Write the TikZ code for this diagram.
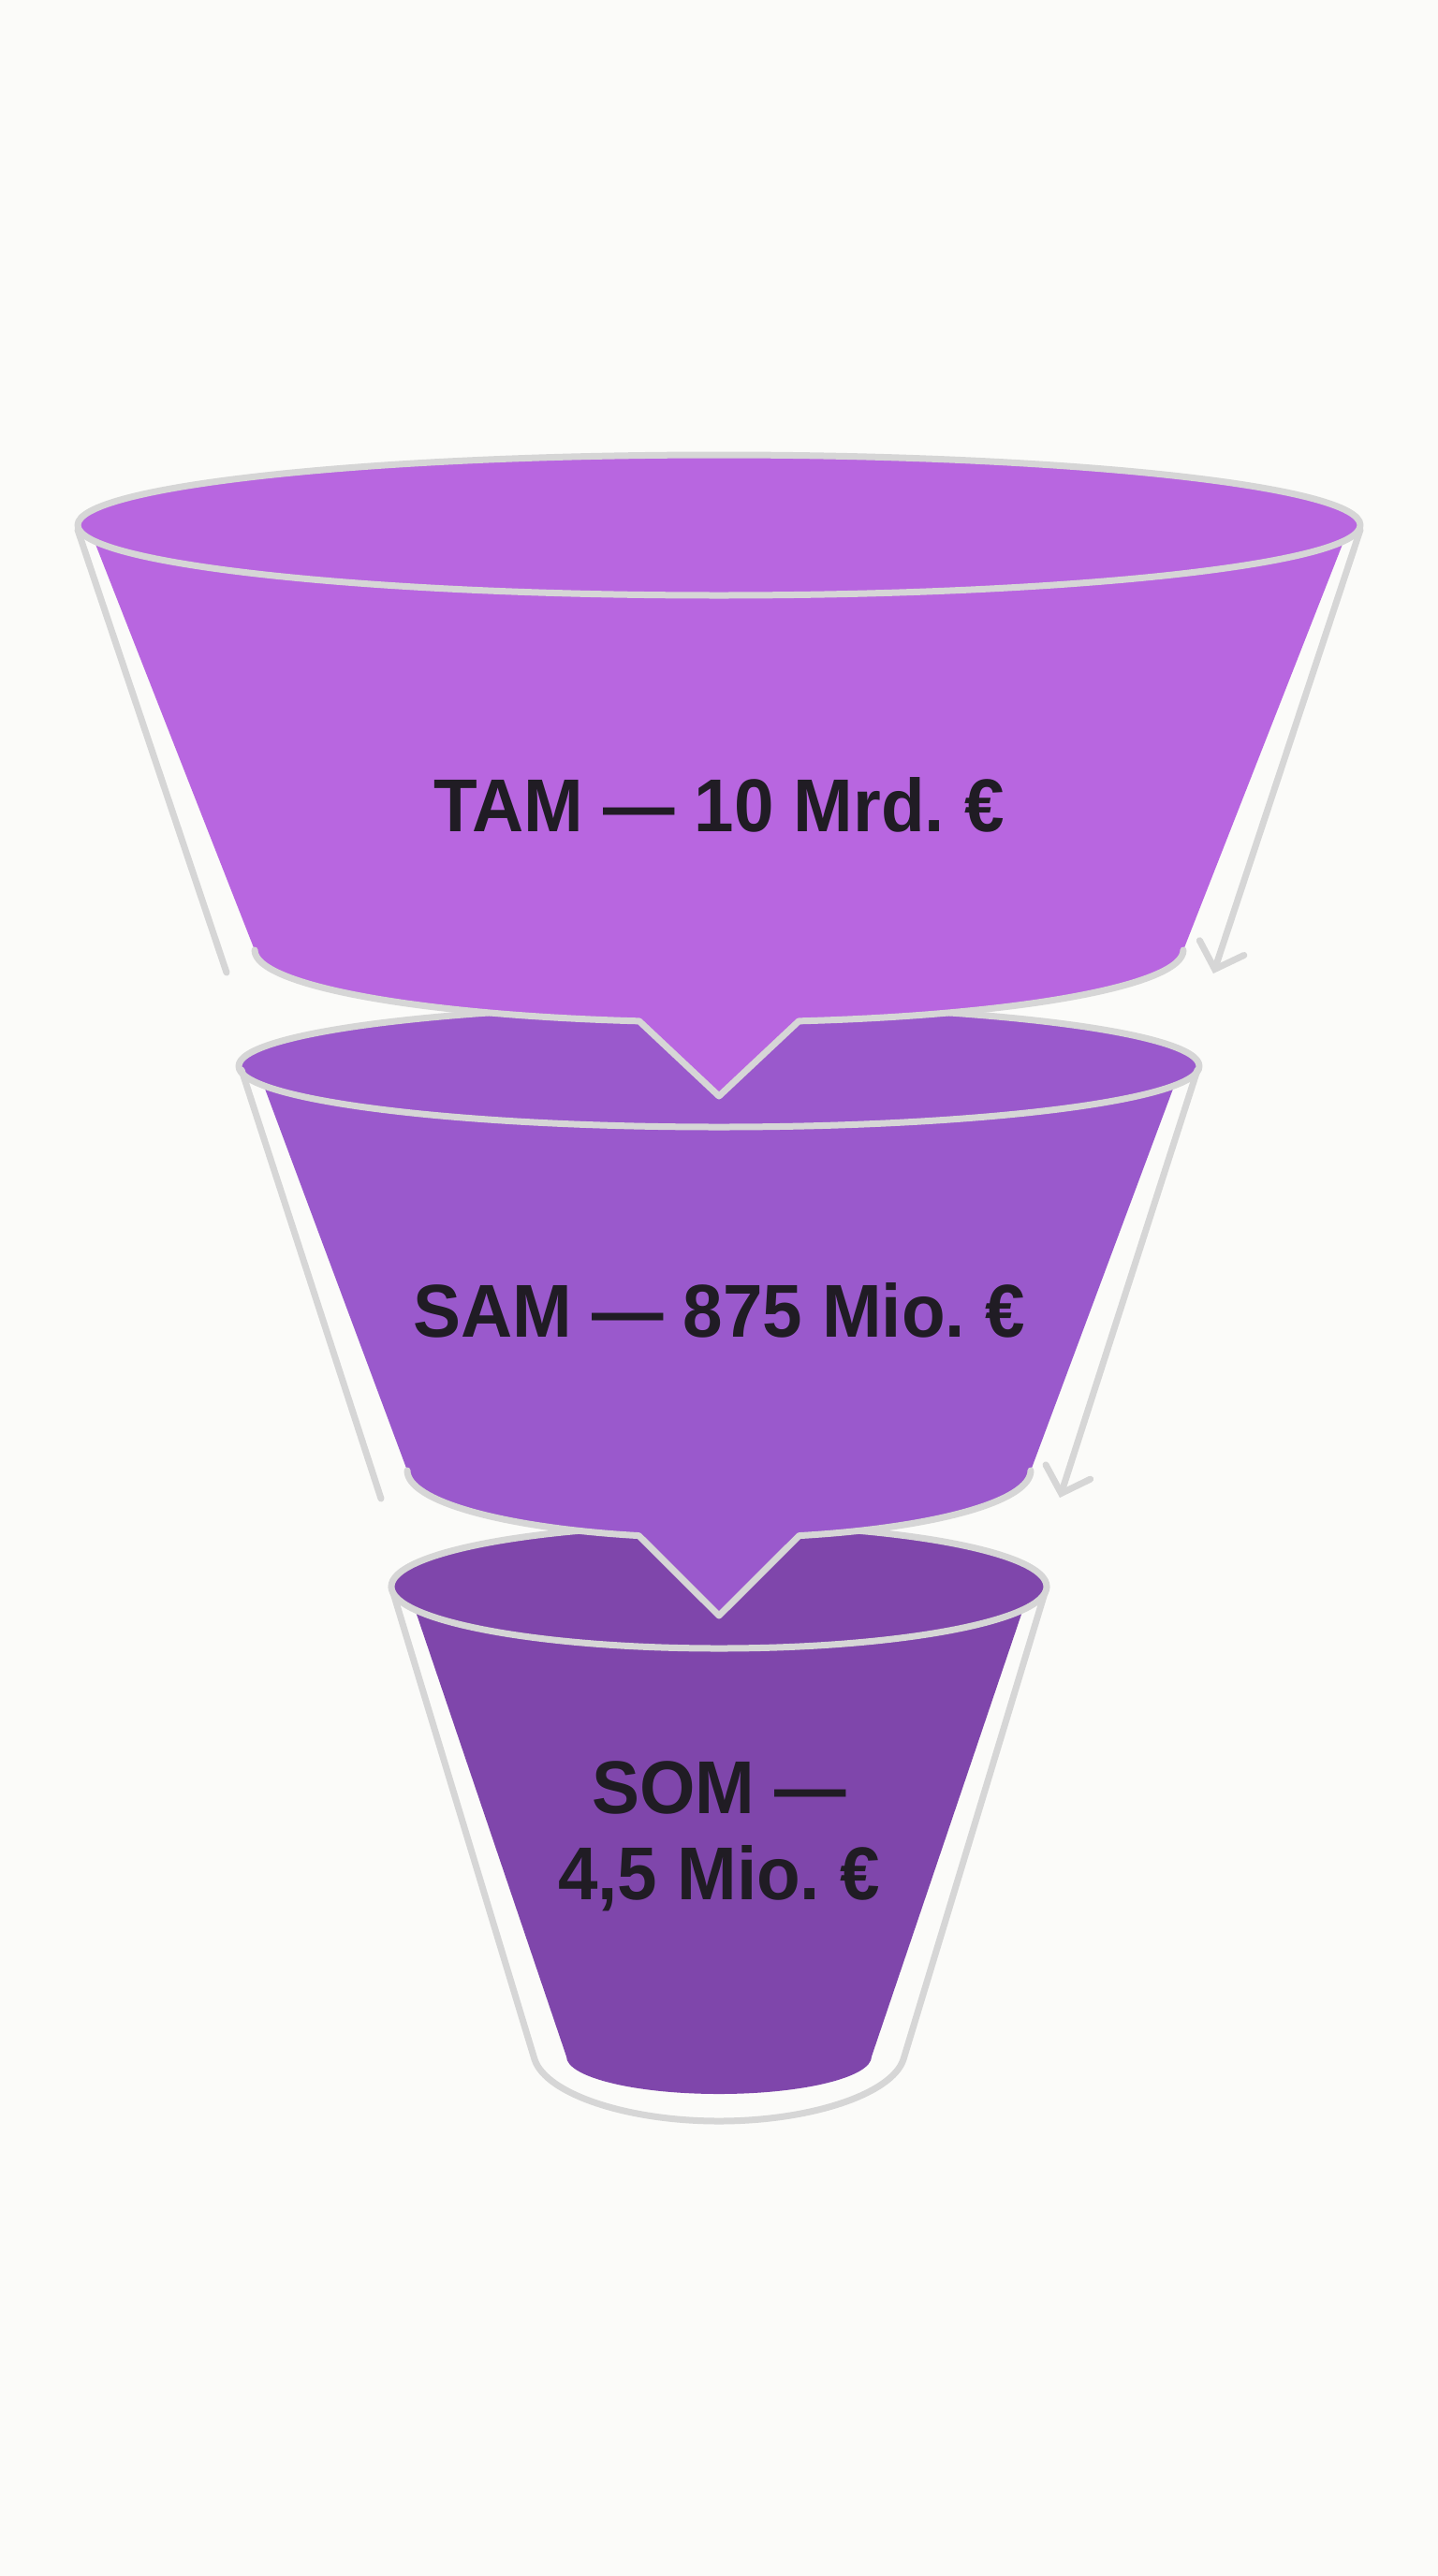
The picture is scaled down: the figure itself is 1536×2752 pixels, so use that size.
\documentclass[tikz,border=0pt]{standalone}
\usepackage{fontspec}
\setmainfont{Liberation Sans}
\newfontfamily\lblfont{Liberation Sans}[FakeStretch=0.955]
\usetikzlibrary{arrows.meta,calc}
\definecolor{bg}{HTML}{FBFBF9}
\definecolor{rimgray}{HTML}{D6D6D6}
\definecolor{tamc}{HTML}{B866E0}
\definecolor{samc}{HTML}{9A59CC}
\definecolor{somc}{HTML}{7F46AB}
\definecolor{txt}{HTML}{201C24}
\begin{document}
\begin{tikzpicture}[x=1pt,y=1pt,
  rim/.style={draw=rimgray, line width=7pt, line join=round, line cap=round},
  guide/.style={draw=rimgray, line width=7pt, line cap=round},
  guidearrow/.style={guide, -{Straight Barb[length=24pt,width=50pt,line cap=round]}},
  tierlabel/.style={text=txt, font=\lblfont\fontsize{80}{92}\selectfont\bfseries, align=center}]
\fill[bg] (0,0) rectangle (1536,-2752);
\useasboundingbox (0,0) rectangle (1536,-2752);

% ---------- SOM ----------
\coordinate (somTop) at (768,-1695);
\coordinate (somCupL) at (418,-1695);
\coordinate (somCupLb) at (571,-2200);
\coordinate (somCupBot) at (768,-2266);
\coordinate (somCupRb) at (965,-2200);
\coordinate (somCupR) at (1118,-1695);
\draw[rim] (somCupL) -- (somCupLb)
  .. controls (583,-2237) and (670,-2266) .. (somCupBot)
  .. controls (866,-2266) and (953,-2237) .. (somCupRb) -- (somCupR);
\fill[somc] (435,-1695) -- (605,-2197) arc[start angle=180,end angle=360,x radius=163pt,y radius=40pt] -- (1101,-1695) -- cycle;
\draw[rim, fill=somc] (somTop) ellipse[x radius=350pt, y radius=66pt];

% ---------- SAM ----------
\coordinate (samTop) at (768,-1139);
\coordinate (samBotC) at (768,-1571);
\coordinate (samTip) at (768,-1726);
\fill[samc] (274,-1139) -- (435,-1571)
  arc[start angle=180,end angle=255.1,x radius=333pt,y radius=72pt] -- (samTip)
  -- ($(samBotC)+(284.9:333pt and 72pt)$)
  arc[start angle=284.9,end angle=360,x radius=333pt,y radius=72pt] -- (1262,-1139) -- cycle;
\draw[rim] (435,-1571)
  arc[start angle=180,end angle=255.1,x radius=333pt,y radius=72pt] -- (samTip)
  -- ($(samBotC)+(284.9:333pt and 72pt)$)
  arc[start angle=284.9,end angle=360,x radius=333pt,y radius=72pt];
\draw[rim, fill=samc] (samTop) ellipse[x radius=513pt, y radius=65pt];
\coordinate (samGL1) at (258,-1143);
\coordinate (samGL2) at (407,-1601);
\coordinate (samGR1) at (1279,-1143);
\coordinate (samGR2) at (1132,-1600);
\draw[guide] (samGL1) -- (samGL2);
\draw[guidearrow] (samGR1) -- (samGR2);

% ---------- TAM ----------
\coordinate (tamTop) at (768,-561);
\coordinate (tamBotC) at (768,-1015);
\coordinate (tamTip) at (768,-1171);
\fill[tamc] (94,-561) -- (272,-1015)
  arc[start angle=180,end angle=260.1,x radius=496pt,y radius=77pt] -- (tamTip)
  -- ($(tamBotC)+(279.9:496pt and 77pt)$)
  arc[start angle=279.9,end angle=360,x radius=496pt,y radius=77pt] -- (1442,-561) -- cycle;
\draw[rim] (272,-1015)
  arc[start angle=180,end angle=260.1,x radius=496pt,y radius=77pt] -- (tamTip)
  -- ($(tamBotC)+(279.9:496pt and 77pt)$)
  arc[start angle=279.9,end angle=360,x radius=496pt,y radius=77pt];
\draw[rim, fill=tamc] (tamTop) ellipse[x radius=685pt, y radius=75pt];
\coordinate (tamGL1) at (83,-566);
\coordinate (tamGL2) at (242,-1039);
\coordinate (tamGR1) at (1453,-566);
\coordinate (tamGR2) at (1296,-1040);
\draw[guide] (tamGL1) -- (tamGL2);
\draw[guidearrow] (tamGR1) -- (tamGR2);

% ---------- labels ----------
\node[tierlabel] (tamLabel) at (768,-860) {TAM — 10 Mrd.~€};
\node[tierlabel] (samLabel) at (768,-1400) {SAM — 875 Mio.~€};
\node[tierlabel] (somLabel) at (768,-1962) {SOM —\\4,5 Mio.~€};
\end{tikzpicture}
\end{document}
